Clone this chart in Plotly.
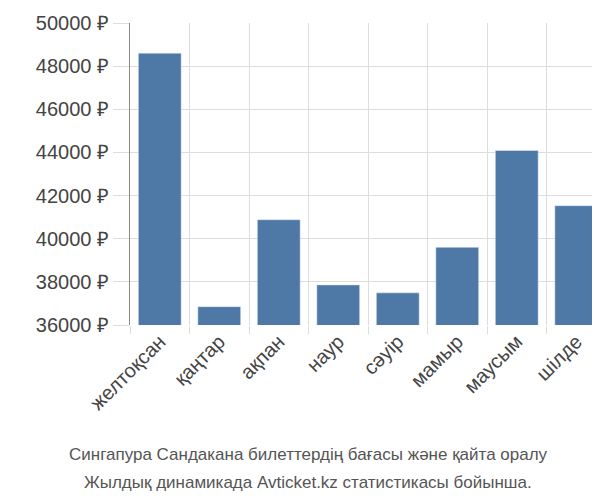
import plotly.graph_objects as go

months = ["желтоқсан", "қаңтар", "ақпан", "наур", "сәуір", "мамыр", "маусым", "шілде"]
prices = [48600, 36850, 40880, 37860, 37490, 39600, 44090, 41530]
yticks = [36000, 38000, 40000, 42000, 44000, 46000, 48000, 50000]
ytext = [f"{v} ₽" for v in yticks]
caption = ["Сингапура Сандакана билеттердің бағасы және қайта оралу",
           "Жылдық динамикада Avticket.kz статистикасы бойынша."]

xs = list(range(len(months)))
fig = go.Figure(go.Bar(x=xs, y=prices, marker_color="#4e79a7", width=0.72))
fig.update_layout(
    width=600, height=500, margin=dict(l=122, r=2, t=15, b=183),
    plot_bgcolor="white", paper_bgcolor="white", showlegend=False,
    font=dict(family="Liberation Sans, Arial", color="#444"),
)
fig.update_xaxes(range=[-0.5, len(months) - 0.5], tickvals=xs, ticktext=months,
                 tickangle=-45, tickfont=dict(size=20), showgrid=False,
                 showline=False, ticks="",
                 minor=dict(tickvals=[i - 0.5 for i in range(len(months) + 1)],
                            showgrid=True, gridcolor="#ddd", ticks="outside",
                            ticklen=8, tickcolor="#ddd"))
fig.update_yaxes(range=[36000, 50000], tickvals=yticks, ticktext=ytext,
                 tickfont=dict(size=20), gridcolor="#ddd", ticks="outside",
                 ticklen=16, tickcolor="#ddd", showline=True, linecolor="#888",
                 zeroline=False)
for i, line in enumerate(caption):
    fig.add_annotation(text=line, xref="paper", yref="paper",
                       x=0.374, y=-0.39 - i * 0.093, xanchor="center", yanchor="top",
                       showarrow=False, font=dict(size=17, color="#555"))
fig.write_html("out.html")
